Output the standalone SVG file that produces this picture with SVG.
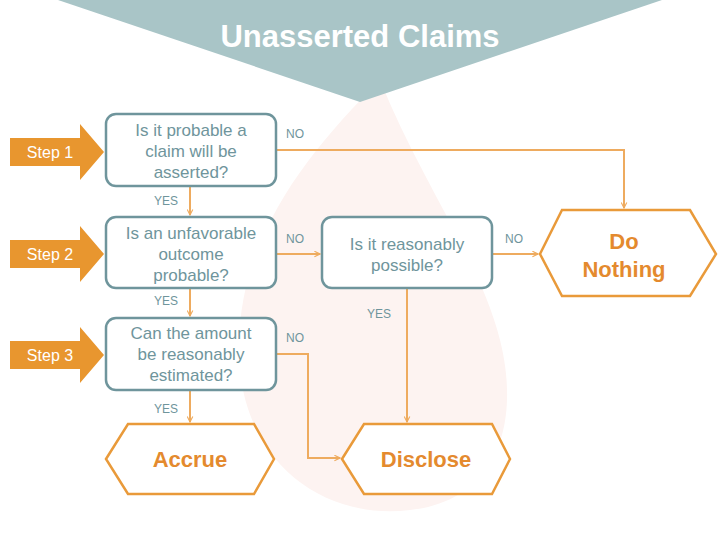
<svg xmlns="http://www.w3.org/2000/svg" width="720" height="540" viewBox="0 0 720 540">
<style>
.q{fill:#fff;stroke:#6f959c;stroke-width:2.5}
.qt{font-family:"Liberation Sans",Arial,sans-serif;font-size:17px;fill:#6f959c;text-anchor:middle}
.hx{fill:#fff;stroke:#e99a3a;stroke-width:2.5}
.ht{font-family:"Liberation Sans",Arial,sans-serif;font-size:22px;font-weight:bold;fill:#e48a2e;text-anchor:middle}
.c{fill:none;stroke:#eeab5f;stroke-width:2}
.l{font-family:"Liberation Sans",Arial,sans-serif;font-size:12px;fill:#6f959c}
.st{fill:#e8962f}
.stt{font-family:"Liberation Sans",Arial,sans-serif;font-size:16px;fill:#fff}
</style>
<defs>
<marker id="a" viewBox="0 0 10 10" refX="9" refY="5" markerWidth="7" markerHeight="7" orient="auto" markerUnits="userSpaceOnUse"><path d="M1,1 L9,5 L1,9" fill="none" stroke="#eeab5f" stroke-width="1.6"/></marker>
</defs>
<rect width="720" height="540" fill="#fff"/>
<g id="watermark" fill="#fdf3f1">
<path d="M380,80 C300,160 230,250 240,370 C250,470 330,520 410,510 C500,500 520,420 500,340 C480,260 420,180 380,80 Z"/>
</g>
<g id="banner">
<polygon points="58,0 662,0 360,102" fill="#a9c5c7"/>
<text x="360" y="47" font-family="Liberation Sans,Arial,sans-serif" font-size="31" font-weight="bold" fill="#fff" text-anchor="middle">Unasserted Claims</text>
</g>
<g id="steps">
<g id="step1"><polygon class="st" points="10,138 80,138 80,124 104,152 80,180 80,166 10,166"/><text class="stt" x="50" y="158" text-anchor="middle">Step 1</text></g>
<g id="step2"><polygon class="st" points="10,240 80,240 80,226 104,254 80,282 80,268 10,268"/><text class="stt" x="50" y="260" text-anchor="middle">Step 2</text></g>
<g id="step3"><polygon class="st" points="10,341 80,341 80,327 104,355 80,383 80,369 10,369"/><text class="stt" x="50" y="361" text-anchor="middle">Step 3</text></g>
</g>
<g id="connectors">
<polyline class="c" points="276,150 624,150 624,208" marker-end="url(#a)"/>
<line class="c" x1="190" y1="186" x2="190" y2="215" marker-end="url(#a)"/>
<line class="c" x1="276" y1="254" x2="320" y2="254" marker-end="url(#a)"/>
<line class="c" x1="492" y1="254" x2="538" y2="254" marker-end="url(#a)"/>
<line class="c" x1="407" y1="288" x2="407" y2="422" marker-end="url(#a)"/>
<line class="c" x1="190" y1="288" x2="190" y2="316" marker-end="url(#a)"/>
<line class="c" x1="190" y1="390" x2="190" y2="422" marker-end="url(#a)"/>
<polyline class="c" points="276,354 308,354 308,458 340,458" marker-end="url(#a)"/>
<text class="l" x="286" y="138">NO</text>
<text class="l" x="154" y="205">YES</text>
<text class="l" x="286" y="243">NO</text>
<text class="l" x="505" y="243">NO</text>
<text class="l" x="154" y="305">YES</text>
<text class="l" x="367" y="318">YES</text>
<text class="l" x="286" y="342">NO</text>
<text class="l" x="154" y="413">YES</text>
</g>
<g id="q1"><rect class="q" x="106" y="114" width="170" height="72" rx="10"/><text class="qt" x="191" y="136">Is it probable a</text><text class="qt" x="191" y="157">claim will be</text><text class="qt" x="191" y="178">asserted?</text></g>
<g id="q2"><rect class="q" x="106" y="217" width="170" height="71" rx="10"/><text class="qt" x="191" y="239">Is an unfavorable</text><text class="qt" x="191" y="260">outcome</text><text class="qt" x="191" y="281">probable?</text></g>
<g id="q3"><rect class="q" x="106" y="318" width="170" height="72" rx="10"/><text class="qt" x="191" y="339">Can the amount</text><text class="qt" x="191" y="360">be reasonably</text><text class="qt" x="191" y="381">estimated?</text></g>
<g id="q4"><rect class="q" x="322" y="217" width="170" height="71" rx="10"/><text class="qt" x="407" y="250">Is it reasonably</text><text class="qt" x="407" y="271">possible?</text></g>
<g id="donothing"><polygon class="hx" points="540,254 562,210 690,210 716,254 690,296 562,296"/><text class="ht" x="624" y="249">Do</text><text class="ht" x="624" y="277">Nothing</text></g>
<g id="accrue"><polygon class="hx" points="106,459 128,424 254,424 274,459 254,494 128,494"/><text class="ht" x="190" y="467">Accrue</text></g>
<g id="disclose"><polygon class="hx" points="342,459 364,424 492,424 510,459 492,494 364,494"/><text class="ht" x="426" y="467">Disclose</text></g>
</svg>
